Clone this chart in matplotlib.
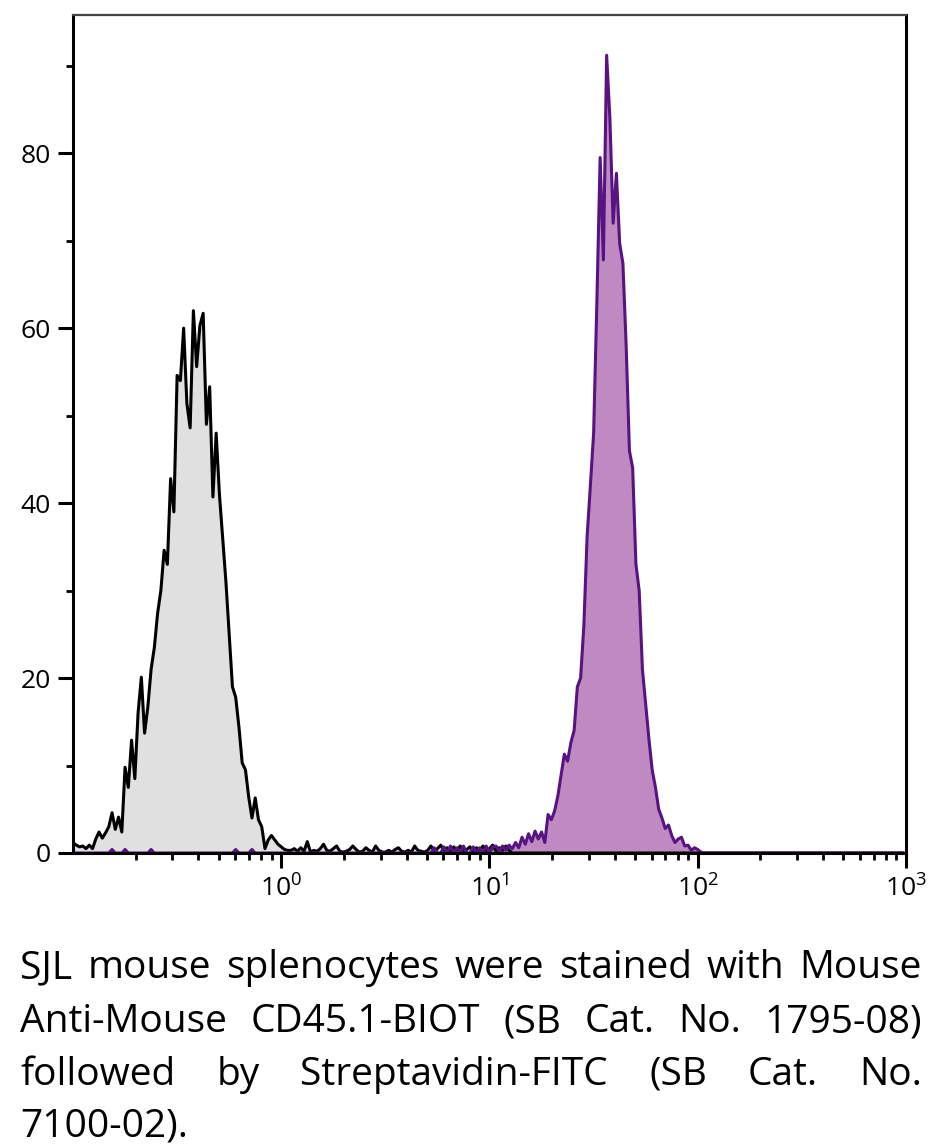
import numpy as np
import matplotlib
matplotlib.use('Agg')
import matplotlib.pyplot as plt
from matplotlib import font_manager
from matplotlib.ticker import FixedLocator, LogLocator, MultipleLocator, NullFormatter

installed = {f.name for f in font_manager.fontManager.ttflist}
FONT = next(f for f in ['Open Sans', 'Noto Sans', 'DejaVu Sans'] if f in installed)
plt.rcParams['font.family'] = [FONT, 'DejaVu Sans']
plt.rcParams['mathtext.default'] = 'regular'

# histogram: 256 log channels over 4 decades (10^-1 .. 10^3)
N_CHANNELS = 256
DECADES = (-1, 3)

# unstained / control (gray), channels 0..134
gray_counts = [
    1.2, 0.9, 0.7, 0.8, 0.5, 0.9, 0.5, 1.6, 2.4, 1.7,
    2.3, 3.0, 4.6, 2.7, 4.1, 2.4, 9.8, 7.5, 12.9, 8.5,
    16.0, 20.1, 13.7, 16.7, 21.0, 23.5, 27.4, 30.0, 34.6, 33.0,
    42.8, 39.0, 54.6, 54.0, 60.0, 51.4, 48.6, 62.0, 55.6, 60.3,
    61.7, 49.0, 53.3, 40.7, 48.0, 41.0, 36.0, 31.0, 25.0, 19.0,
    17.8, 14.4, 10.3, 9.5, 6.4, 4.0, 6.3, 3.8, 3.0, 0.5,
    1.5, 2.0, 1.5, 1.0, 0.7, 0.4, 0.3, 0.3, 0.5, 0.2,
    0.6, 0.2, 1.3, 0.1, 0.3, 0.2, 0.5, 1.0, 0.3, 0.2,
    0.5, 0.8, 0.2, 0.1, 0.2, 0.4, 0.8, 0.4, 0.1, 0.2,
    0.6, 0.3, 0.1, 0.8, 0.3, 0.1, 0.1, 0.3, 0.1, 0.4,
    0.6, 0.2, 0.1, 0.3, 0.1, 0.8, 0.3, 0.2, 0.1, 0.3,
    0.8, 0.2, 0.5, 0.9, 0.3, 0.6, 0.2, 0.7, 0.3, 0.8,
    0.2, 0.4, 0.7, 0.2, 0.6, 0.3, 0.8, 0.2, 0.5, 0.9,
    0.2, 0.6, 0.3, 0.8, 0.3,
]

# CD45.1-BIOT + Streptavidin-FITC (purple), channels 0..193
purple_counts = [
    0, 0, 0, 0, 0, 0, 0, 0, 0, 0,
    0, 0, 0.4, 0, 0, 0, 0.4, 0, 0, 0,
    0, 0, 0, 0, 0.4, 0, 0, 0, 0, 0,
    0, 0, 0, 0, 0, 0, 0, 0, 0, 0,
    0, 0, 0, 0, 0, 0, 0, 0, 0, 0,
    0.4, 0, 0, 0, 0, 0.4, 0, 0, 0, 0,
    0, 0, 0, 0, 0, 0, 0, 0, 0, 0,
    0, 0, 0, 0, 0, 0, 0, 0, 0, 0,
    0, 0, 0, 0, 0, 0, 0, 0, 0, 0,
    0, 0, 0, 0, 0, 0, 0, 0, 0, 0,
    0, 0, 0, 0, 0, 0, 0, 0, 0, 0,
    0, 0.6, 0, 0, 0.7, 0, 0.8, 0, 0.6, 0,
    0.8, 0, 0, 0.7, 0, 0.6, 0, 0.8, 0, 0.7,
    0.8, 0.2, 0.8, 0.3, 0.9, 0.5, 1.2, 0.6, 1.8, 1.0,
    2.2, 1.3, 2.5, 1.6, 2.4, 1.2, 4.4, 3.8, 4.8, 6.5,
    8.9, 11.3, 10.5, 12.6, 14.0, 19.0, 20.0, 26.0, 36.2, 42.0,
    48.0, 63.0, 79.5, 67.8, 91.2, 84.0, 72.0, 77.7, 69.7, 67.4,
    58.0, 46.0, 44.0, 33.0, 30.0, 21.0, 17.0, 13.0, 9.5, 7.5,
    5.0, 4.0, 2.8, 3.2, 2.0, 1.2, 1.6, 1.8, 0.8, 0.9,
    0.3, 0.6, 0.4, 0.1,
]

y_major = [0, 20, 40, 60, 80]
x_major = [1, 10, 100, 1000]

caption_lines = [
    "SJL mouse splenocytes were stained with Mouse",
    "Anti-Mouse CD45.1-BIOT (SB Cat. No. 1795-08)",
    "followed by Streptavidin-FITC (SB Cat. No.",
    "7100-02).",
]

GRAY_FILL, GRAY_LINE = '#e0e0e0', 'black'
PURPLE_FILL, PURPLE_LINE = '#bf8ac1', '#561381'

# --- series on channel grid ---
def pad(vals):
    out = np.zeros(N_CHANNELS)
    out[:len(vals)] = vals
    return out

ch = np.arange(N_CHANNELS)
intensity = 10 ** (DECADES[0] + (DECADES[1] - DECADES[0]) * ch / N_CHANNELS)
gray = pad(gray_counts)
purple = pad(purple_counts)

W, H = 937, 1146
fig = plt.figure(figsize=(W / 100, H / 100), dpi=100)
ax = fig.add_axes([73 / W, 1 - 853 / H, (906 - 73) / W, (853 - 15) / H])

ax.fill_between(intensity, gray, color=GRAY_FILL, lw=0)
ax.plot(intensity, gray, color=GRAY_LINE, lw=2.2)
ax.fill_between(intensity, purple, color=PURPLE_FILL, lw=0)
ax.plot(intensity, purple, color=PURPLE_LINE, lw=2.2)

ax.set_xscale('log')
ax.set_xlim(10 ** DECADES[0], 10 ** DECADES[1])
ax.set_ylim(0, 95.8)

ax.xaxis.set_major_locator(FixedLocator(x_major))
ax.xaxis.set_minor_locator(LogLocator(base=10, subs=np.arange(2, 10)))
ax.xaxis.set_minor_formatter(NullFormatter())
ax.yaxis.set_major_locator(FixedLocator(y_major))
ax.yaxis.set_minor_locator(MultipleLocator(10))

ax.tick_params(which='major', length=11, width=2.2, labelsize=19, pad=5, color='black')
ax.tick_params(which='minor', length=5, width=2.0, color='black')
for side in ['left', 'bottom', 'right']:
    ax.spines[side].set_linewidth(2.2)
    ax.spines[side].set_color('black')
ax.spines['top'].set_linewidth(1.6)
ax.spines['top'].set_color('#444444')

# --- justified caption ---
LEFT, RIGHT = 20, 922
baselines = [978, 1032, 1085, 1137]
CAP_SIZE = 28
renderer = fig.canvas.get_renderer()
probe_a = fig.text(0, 0, 'a', fontsize=CAP_SIZE)
probe_aa = fig.text(0, 0, 'a a', fontsize=CAP_SIZE)
space = probe_aa.get_window_extent(renderer).width - 2 * probe_a.get_window_extent(renderer).width
probe_a.remove()
probe_aa.remove()

for i, (line, base) in enumerate(zip(caption_lines, baselines)):
    words = line.split()
    yf = 1 - base / H
    texts = [fig.text(0, yf, w, fontsize=CAP_SIZE, va='baseline', ha='left') for w in words]
    widths = [t.get_window_extent(renderer).width for t in texts]
    if i == len(caption_lines) - 1 or len(words) == 1:
        gap = space
    else:
        gap = (RIGHT - LEFT - sum(widths)) / (len(words) - 1)
    x = LEFT
    for t, w in zip(texts, widths):
        t.set_x(x / W)
        x += w + gap

fig.savefig('out.png', dpi=100)
